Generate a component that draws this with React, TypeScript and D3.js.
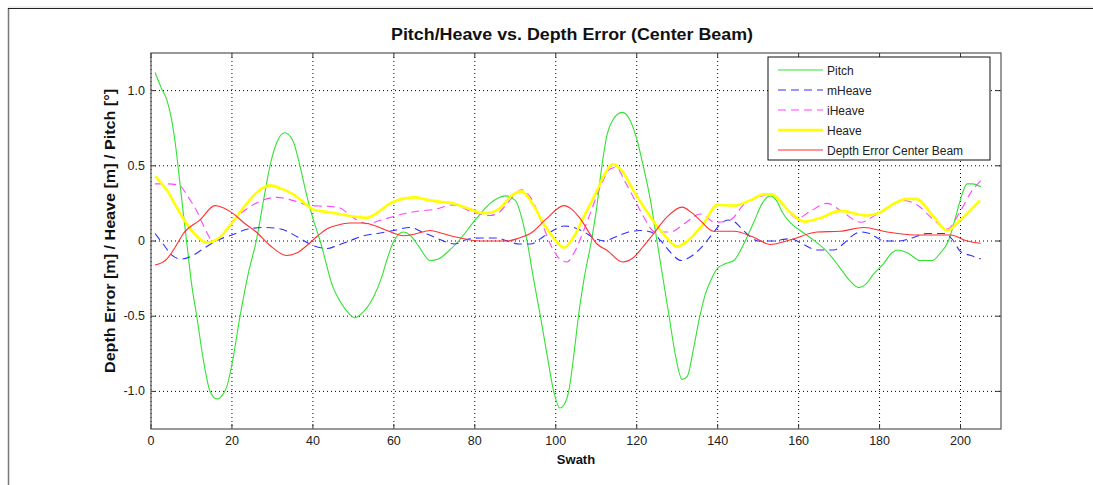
import React from "react";
import * as d3 from "d3";

const xTicks = [0, 20, 40, 60, 80, 100, 120, 140, 160, 180, 200];
const yTicks = [-1.0, -0.5, 0, 0.5, 1.0];
const yTickLabels = ["-1.0", "-0.5", "0", "0.5", "1.0"];

const pitchX = [1, 2.5, 4, 5, 6, 7, 8, 9, 10, 11.3, 13, 14.6, 16.3, 18, 18.7, 20, 22, 24, 26, 28, 29.4, 31, 33, 35, 36.8, 38.5, 40, 41.8, 45, 46.7, 48.5, 50.3, 52.5, 55, 57, 58, 60, 62.4, 64, 66, 69, 71, 73, 76, 80.1, 83.8, 87.5, 90, 92, 92.9, 94.5, 96.2, 98, 99.5, 101, 102, 103.2, 104.5, 105.6, 107, 108.8, 110, 111.4, 112.7, 114, 116.4, 118, 120, 121.6, 123.4, 125, 126.5, 128, 129.5, 131.2, 132.5, 134, 135.6, 137, 138.5, 140, 142, 144, 145.5, 146.8, 149, 151, 153, 154.5, 156, 158, 160.4, 163, 167, 170, 172.5, 174.9, 176.5, 178.5, 181, 183, 184.5, 187, 190, 193, 195, 197, 199, 200.5, 201.6, 203, 205];
const pitchY = [1.12, 1.02, 0.93, 0.82, 0.65, 0.42, 0.18, -0.05, -0.28, -0.5, -0.8, -1.0, -1.05, -1.01, -0.97, -0.82, -0.5, -0.22, 0.0, 0.3, 0.5, 0.65, 0.72, 0.67, 0.5, 0.3, 0.15, 0.0, -0.31, -0.4, -0.47, -0.51, -0.47, -0.37, -0.24, -0.15, 0.0, 0.06, 0.04, -0.03, -0.13, -0.12, -0.08, 0.0, 0.14, 0.25, 0.3, 0.27, 0.11, 0.0, -0.25, -0.5, -0.78, -1.0, -1.11, -1.09, -1.0, -0.75, -0.5, -0.25, 0.0, 0.2, 0.5, 0.71, 0.8, 0.855, 0.82, 0.68, 0.5, 0.27, 0.0, -0.25, -0.5, -0.75, -0.92, -0.9, -0.72, -0.5, -0.35, -0.25, -0.18, -0.15, -0.13, -0.07, 0.0, 0.13, 0.25, 0.3, 0.27, 0.19, 0.12, 0.07, 0.02, -0.07, -0.17, -0.26, -0.31, -0.29, -0.22, -0.15, -0.08, -0.06, -0.08, -0.13, -0.13, -0.08, 0.0, 0.18, 0.32, 0.38, 0.38, 0.36];

const mHeaveX = [1, 3, 5, 7.5, 10, 13, 16, 20, 24, 28, 32, 36, 40, 43.5, 46, 49, 52.5, 56, 60, 64, 67, 70.5, 75, 78, 81.3, 85.5, 88, 91, 93.7, 97, 100, 102, 104.5, 107, 109.5, 112, 115, 118, 121, 123.5, 126, 128.5, 131, 133, 135.7, 138.5, 141, 142.5, 144, 146, 148, 150, 153.8, 156, 158, 161, 164.6, 168.7, 171, 173, 175.3, 177.5, 179.5, 181, 185, 188, 191.8, 195.9, 198, 200, 203, 205];
const mHeaveY = [0.05, -0.02, -0.09, -0.12, -0.1, -0.05, 0.0, 0.04, 0.08, 0.09, 0.08, 0.03, -0.03, -0.05, -0.03, 0.0, 0.035, 0.05, 0.07, 0.09, 0.06, 0.02, -0.02, 0.01, 0.02, 0.02, 0.0, -0.02, -0.02, 0.03, 0.08, 0.1, 0.09, 0.06, 0.02, 0.0, 0.03, 0.06, 0.07, 0.06, 0.0, -0.08, -0.13, -0.11, -0.05, 0.04, 0.12, 0.14, 0.13, 0.08, 0.03, 0.0, 0.0, 0.01, 0.015, -0.02, -0.06, -0.06, -0.02, 0.03, 0.06, 0.05, 0.02, 0.0, 0.0, 0.02, 0.05, 0.05, 0.01, -0.07, -0.1, -0.12];

const iHeaveX = [1, 4, 7, 9, 11.3, 13, 15.4, 17.5, 20.4, 24, 27.5, 31, 35, 39.3, 44, 46.7, 49.2, 53.3, 57, 60.7, 66.5, 70, 74.7, 79.7, 83.8, 86, 88, 91.6, 94, 97, 99, 101, 102.8, 104.5, 106.9, 109, 111, 113.5, 115, 117, 119.2, 121.5, 124.6, 128.3, 132, 135.7, 139.4, 143.1, 146.4, 150, 153, 156, 159.6, 163, 167, 171, 175.3, 179.4, 183, 185.6, 189.3, 193, 196.7, 200, 202.5, 205];
const iHeaveY = [0.38, 0.38, 0.37, 0.3, 0.2, 0.1, 0.0, 0.04, 0.14, 0.22, 0.27, 0.29, 0.27, 0.235, 0.23, 0.22, 0.17, 0.115, 0.14, 0.17, 0.2, 0.21, 0.24, 0.19, 0.17, 0.19, 0.25, 0.34, 0.28, 0.09, -0.04, -0.12, -0.14, -0.08, 0.07, 0.22, 0.36, 0.48, 0.49, 0.4, 0.29, 0.17, 0.06, 0.06, 0.12, 0.18, 0.125, 0.14, 0.24, 0.29, 0.31, 0.25, 0.15, 0.2, 0.25, 0.19, 0.125, 0.18, 0.24, 0.27, 0.24, 0.15, 0.08, 0.2, 0.32, 0.4];

const heaveX = [1, 3, 4, 6, 8.8, 11, 13.8, 17, 20, 22.8, 26, 29.4, 32, 35.2, 38, 40.1, 44.3, 48.4, 53.3, 56, 59.1, 62, 65.3, 68, 71.4, 74.7, 78, 82.1, 84, 86.3, 89, 91.6, 94, 97, 99.5, 102, 104.5, 106.9, 110.2, 112, 114.1, 116, 119.2, 123.4, 126.5, 130, 132.5, 136.5, 139.9, 144, 148, 151.4, 153.4, 157.2, 161.3, 165, 170.3, 176.9, 180.2, 183, 186.8, 189, 193.4, 196.7, 200, 204.8];
const heaveY = [0.43, 0.37, 0.335, 0.24, 0.115, 0.04, -0.01, 0.025, 0.12, 0.22, 0.32, 0.37, 0.35, 0.31, 0.25, 0.21, 0.19, 0.17, 0.155, 0.19, 0.25, 0.28, 0.29, 0.275, 0.26, 0.25, 0.22, 0.185, 0.19, 0.22, 0.3, 0.33, 0.26, 0.115, 0.02, -0.045, 0.03, 0.16, 0.335, 0.44, 0.51, 0.48, 0.335, 0.16, 0.05, -0.037, 0.0, 0.115, 0.24, 0.235, 0.27, 0.31, 0.31, 0.21, 0.13, 0.15, 0.2, 0.17, 0.19, 0.24, 0.28, 0.28, 0.16, 0.07, 0.14, 0.27];

const depthErrX = [1, 3.9, 6, 8, 12.1, 15.8, 17.5, 20.4, 23, 26, 29.4, 33.5, 36, 38.5, 41, 43.4, 46, 49.2, 52.5, 55.5, 58.3, 62.4, 65, 69, 72, 75.6, 81.3, 88, 91, 93.7, 97.8, 102, 104, 106, 110.2, 112.7, 116.5, 119.2, 121.5, 124.2, 127.5, 131.2, 133.5, 135.7, 139, 144, 148.9, 153, 158, 164.6, 170.3, 176.1, 181.9, 188.5, 197.5, 201.6, 205];
const depthErrY = [-0.16, -0.12, -0.04, 0.05, 0.14, 0.235, 0.225, 0.18, 0.12, 0.06, -0.03, -0.096, -0.08, -0.03, 0.03, 0.08, 0.105, 0.12, 0.12, 0.1, 0.07, 0.035, 0.045, 0.07, 0.05, 0.025, 0.0, 0.0, 0.02, 0.05, 0.15, 0.235, 0.21, 0.15, -0.02, -0.063, -0.14, -0.11, -0.04, 0.05, 0.16, 0.225, 0.19, 0.136, 0.065, 0.065, 0.025, -0.023, 0.008, 0.06, 0.065, 0.09, 0.06, 0.04, 0.04, 0.0, -0.015];

const seriesNames = ["Pitch", "mHeave", "iHeave", "Heave", "Depth Error Center Beam"];

const W = 1093;
const H = 485;
const M = { left: 151, top: 53, right: 1001, bottom: 429 };

type Style = { color: string; width: number; dash?: string };
const styles: Style[] = [
  { color: "#33e233", width: 1.1 },
  { color: "#3030ff", width: 1.1, dash: "8,5" },
  { color: "#ff44ff", width: 1.1, dash: "8,5" },
  { color: "#ffff00", width: 2.6 },
  { color: "#ff3030", width: 1.1 },
];

export default function App() {
  const x = d3.scaleLinear().domain([0, 210]).range([M.left, M.right]);
  const y = d3.scaleLinear().domain([-1.25, 1.25]).range([M.bottom, M.top]);
  const line = d3
    .line<[number, number]>()
    .x((d) => x(d[0]))
    .y((d) => y(d[1]))
    .curve(d3.curveMonotoneX);

  const data: [number[], number[]][] = [
    [pitchX, pitchY],
    [mHeaveX, mHeaveY],
    [iHeaveX, iHeaveY],
    [heaveX, heaveY],
    [depthErrX, depthErrY],
  ];
  const font = "Arial, 'Liberation Sans', sans-serif";
  const tickLen = 5;

  const lg = { x: 768, y: 57, w: 222, h: 103 };

  return (
    <svg
      width={W}
      height={H}
      style={{ position: "absolute", left: 0, top: 0, background: "#fff" }}
      fontFamily={font}
    >
      <rect x={0} y={0} width={W} height={H} fill="#fff" />
      <line x1={8.5} y1={8} x2={8.5} y2={485} stroke="#777" strokeWidth={1.5} />
      <line x1={8} y1={8.5} x2={W} y2={8.5} stroke="#222" strokeWidth={1} />
      <line x1={8} y1={7} x2={W} y2={7} stroke="#ddd" strokeWidth={1} />

      <text x={572} y={40} textAnchor="middle" fontSize={16} fontWeight="bold" fill="#111"
        textLength={362} lengthAdjust="spacingAndGlyphs">
        Pitch/Heave vs. Depth Error (Center Beam)
      </text>

      {xTicks.map((t) => (
        <line key={"gx" + t} x1={x(t)} x2={x(t)} y1={M.top} y2={M.bottom} stroke="#000" strokeWidth={1} strokeDasharray="1,3" />
      ))}
      {yTicks.map((t) => (
        <line key={"gy" + t} x1={M.left} x2={M.right} y1={y(t)} y2={y(t)} stroke="#000" strokeWidth={1} strokeDasharray="1,3" />
      ))}

      {xTicks.map((t) => (
        <g key={"tx" + t} stroke="#333" strokeWidth={1}>
          <line x1={x(t)} x2={x(t)} y1={M.bottom} y2={M.bottom - tickLen} />
          <line x1={x(t)} x2={x(t)} y1={M.top} y2={M.top + tickLen} />
        </g>
      ))}
      {yTicks.map((t) => (
        <g key={"ty" + t} stroke="#333" strokeWidth={1}>
          <line x1={M.left} x2={M.left + tickLen} y1={y(t)} y2={y(t)} />
          <line x1={M.right} x2={M.right - tickLen} y1={y(t)} y2={y(t)} />
        </g>
      ))}

      {data.map(([xs, ys], i) => {
        const pts: [number, number][] = xs.map((v, k) => [v, ys[k]]);
        const s = styles[i];
        return (
          <path
            key={"s" + i}
            d={line(pts) || ""}
            fill="none"
            stroke={s.color}
            strokeWidth={s.width}
            strokeDasharray={s.dash}
            strokeLinejoin="round"
          />
        );
      })}

      <rect x={M.left} y={M.top} width={M.right - M.left} height={M.bottom - M.top} fill="none" stroke="#555" strokeWidth={1.2} />

      {xTicks.map((t) => (
        <text key={"lx" + t} x={x(t)} y={M.bottom + 16} textAnchor="middle" fontSize={12.5} fill="#222">
          {t}
        </text>
      ))}
      {yTicks.map((t, i) => (
        <text key={"ly" + t} x={M.left - 6} y={y(t) + 4} textAnchor="end" fontSize={12.5} fill="#222">
          {yTickLabels[i]}
        </text>
      ))}

      <text x={(M.left + M.right) / 2} y={464} textAnchor="middle" fontSize={13} fontWeight="bold" fill="#111">
        Swath
      </text>
      <text
        transform={`translate(115, 231) rotate(-90)`}
        textAnchor="middle"
        fontSize={14}
        fontWeight="bold"
        fill="#111"
        textLength={284}
        lengthAdjust="spacingAndGlyphs"
      >
        Depth Error [m] / Heave [m] / Pitch [°]
      </text>

      <rect x={lg.x} y={lg.y} width={lg.w} height={lg.h} fill="#fff" stroke="#111" strokeWidth={1} />
      {seriesNames.map((name, i) => {
        const s = styles[i];
        const yy = lg.y + 13 + i * 20;
        return (
          <g key={"lg" + i}>
            <line
              x1={lg.x + 10}
              x2={lg.x + 55}
              y1={yy}
              y2={yy}
              stroke={s.color}
              strokeWidth={s.width}
              strokeDasharray={s.dash}
            />
            <text x={lg.x + 59} y={yy + 4.5} fontSize={12} fill="#222">
              {name}
            </text>
          </g>
        );
      })}
    </svg>
  );
}
